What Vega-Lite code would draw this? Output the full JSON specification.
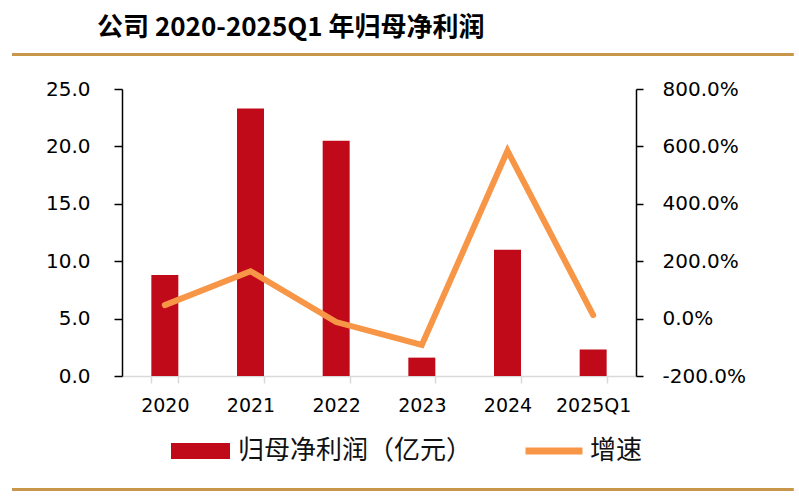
{
  "$schema": "https://vega.github.io/schema/vega-lite/v6.json",
  "width": 514,
  "height": 287,
  "autosize": {"type": "none"},
  "padding": {"left": 122, "top": 89, "right": 163, "bottom": 121},
  "background": "white",
  "title": {
    "text": "公司 2020-2025Q1 年归母净利润",
    "anchor": "start",
    "frame": "group",
    "dx": -25,
    "offset": 12,
    "font": "Noto Sans CJK SC",
    "fontSize": 26,
    "fontWeight": "bold",
    "color": "#000000"
  },
  "data": {
    "values": [
      {"period": "2020", "profit": 8.8, "growth": 0.47},
      {"period": "2021", "profit": 23.3, "growth": 1.65},
      {"period": "2022", "profit": 20.5, "growth": -0.12},
      {"period": "2023", "profit": 1.6, "growth": -0.92},
      {"period": "2024", "profit": 11.0, "growth": 5.85},
      {"period": "2025Q1", "profit": 2.3, "growth": 0.12}
    ]
  },
  "layer": [
    {
      "data": {"values": [{}]},
      "mark": {"type": "rule", "color": "#C9974B", "strokeWidth": 3},
      "encoding": {
        "x": {"datum": -0.214, "type": "quantitative", "scale": {"domain": [0, 1]}, "axis": null},
        "x2": {"datum": 1.307},
        "y": {"datum": 28.005, "type": "quantitative", "scale": {"domain": [0, 25]}, "axis": null}
      }
    },
    {
      "data": {"values": [{}]},
      "mark": {"type": "rule", "color": "#C9974B", "strokeWidth": 3},
      "encoding": {
        "x": {"datum": -0.214, "type": "quantitative", "scale": {"domain": [0, 1]}, "axis": null},
        "x2": {"datum": 1.307},
        "y": {"datum": -9.887, "type": "quantitative", "scale": {"domain": [0, 25]}, "axis": null}
      }
    },
    {
      "layer": [
        {
          "mark": {"type": "bar"},
          "encoding": {
            "x": {
              "field": "period",
              "type": "nominal",
              "sort": null,
              "scale": {"paddingInner": 0.685, "paddingOuter": 0.3425},
              "axis": {
                "title": null,
                "labelAngle": 0,
                "labelFont": "DejaVu Sans",
                "labelFontSize": 19,
                "labelColor": "#000000",
                "labelPadding": 13,
                "domainColor": "#D9D9D9",
                "domainWidth": 1.5,
                "tickColor": "#D9D9D9",
                "tickWidth": 1.5,
                "tickSize": 7,
                "tickBand": "extent"
              }
            },
            "y": {
              "field": "profit",
              "type": "quantitative",
              "scale": {"domain": [0, 25], "nice": false},
              "axis": {
                "title": null,
                "orient": "left",
                "values": [0, 5, 10, 15, 20, 25],
                "format": ".1f",
                "grid": false,
                "labelFont": "DejaVu Sans",
                "labelFontSize": 20,
                "labelColor": "#000000",
                "labelPadding": 24,
                "domainColor": "#000000",
                "domainWidth": 1.5,
                "tickColor": "#000000",
                "tickWidth": 1.5,
                "tickSize": 8
              }
            },
            "color": {
              "datum": "归母净利润（亿元）",
              "type": "nominal",
              "scale": {"range": ["#C10A19"]},
              "legend": {
                "title": null,
                "orient": "none",
                "legendX": 49,
                "legendY": 332.5,
                "padding": 0,
                "symbolType": "M-1,-0.27H1V0.27H-1Z",
                "symbolSize": 3481,
                "symbolStrokeWidth": 0,
                "labelOffset": 8,
                "labelFont": "Noto Sans CJK SC",
                "labelFontSize": 26,
                "labelColor": "#111111",
                "labelLimit": 400
              }
            }
          }
        },
        {
          "mark": {"type": "line", "strokeWidth": 6, "strokeCap": "round"},
          "encoding": {
            "x": {"field": "period", "type": "nominal", "sort": null},
            "y": {
              "field": "growth",
              "type": "quantitative",
              "scale": {"domain": [-2, 8], "nice": false},
              "axis": {
                "title": null,
                "orient": "right",
                "values": [-2, 0, 2, 4, 6, 8],
                "format": ".1%",
                "grid": false,
                "labelFont": "DejaVu Sans",
                "labelFontSize": 20,
                "labelColor": "#000000",
                "labelPadding": 19,
                "domainColor": "#000000",
                "domainWidth": 1.5,
                "tickColor": "#000000",
                "tickWidth": 1.5,
                "tickSize": 7
              }
            },
            "stroke": {
              "datum": "增速",
              "type": "nominal",
              "scale": {"range": ["#F79646"]},
              "legend": {
                "title": null,
                "orient": "none",
                "legendX": 400,
                "legendY": 330,
                "padding": 0,
                "symbolType": "stroke",
                "symbolSize": 3249,
                "symbolStrokeWidth": 7,
                "labelOffset": 4,
                "labelFont": "Noto Sans CJK SC",
                "labelFontSize": 26,
                "labelColor": "#111111"
              }
            }
          }
        }
      ],
      "resolve": {"scale": {"y": "independent"}}
    }
  ],
  "resolve": {"scale": {"x": "independent", "y": "independent"}},
  "config": {
    "view": {"stroke": null},
    "locale": {
      "number": {"decimal": ".", "thousands": ",", "grouping": [3], "currency": ["$", ""], "minus": "-"}
    }
  }
}
